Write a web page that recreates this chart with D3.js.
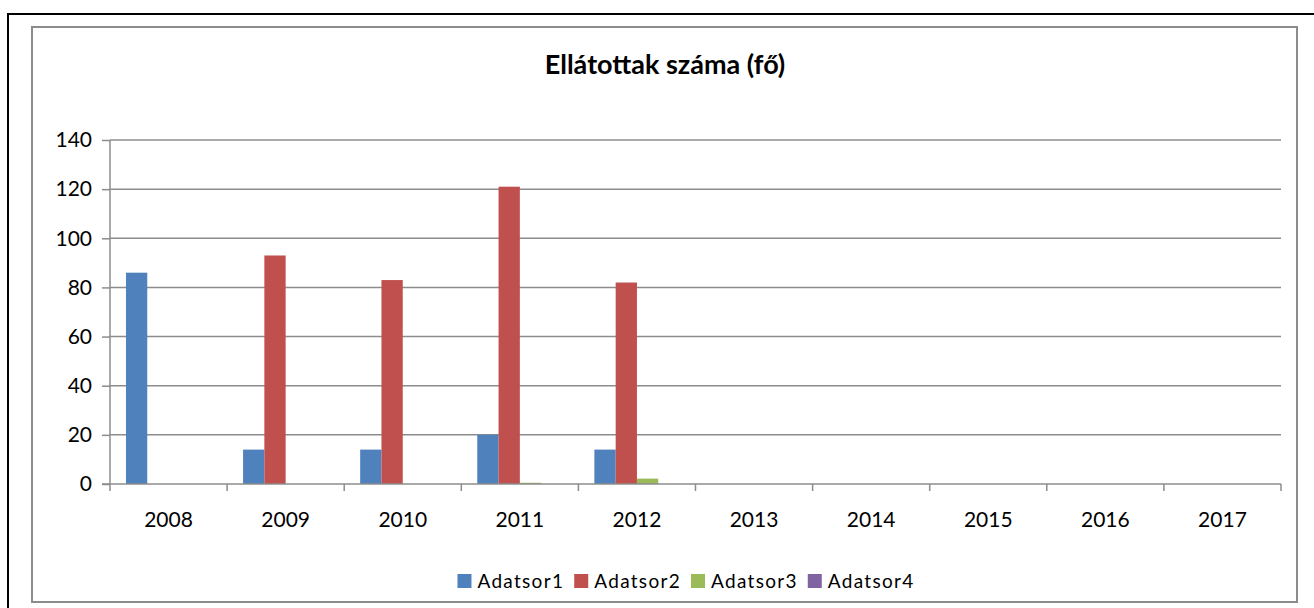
<!DOCTYPE html>
<html>
<head>
<meta charset="utf-8">
<script src="https://cdn.jsdelivr.net/npm/d3@7"></script>
<style>
  body { margin: 0; background: #fff; }
  text { font-family: Lato, "Open Sans", sans-serif; fill: #000; }
</style>
</head>
<body>
<script>
const years = ['2008', '2009', '2010', '2011', '2012', '2013', '2014', '2015', '2016', '2017'];
const seriesNames = ['Adatsor1', 'Adatsor2', 'Adatsor3', 'Adatsor4'];
const colors = ['#4f81bd', '#c0504d', '#9bbb59', '#8064a2'];

// values, one array per series (null = empty)
const adatsor1 = [86, 14, 14, 20, 14, null, null, null, null, null];
const adatsor2 = [null, 93, 83, 121, 82, null, null, null, null, null];
const adatsor3 = [null, null, null, 0.5, 2.2, null, null, null, null, null];
const adatsor4 = [null, null, null, null, null, null, null, null, null, null];
const yTicks = [0, 20, 40, 60, 80, 100, 120, 140];

const allSeries = [adatsor1, adatsor2, adatsor3, adatsor4];

const W = 1314, H = 608;
const plot = {left: 110, right: 1281, top: 140, bottom: 484};

const svg = d3.select('body').append('svg')
    .attr('width', W)
    .attr('height', H);

// outer frame (black) and chart area frame (gray)
svg.append('rect')
    .attr('x', 8).attr('y', 14)
    .attr('width', W + 10).attr('height', H + 10)
    .attr('fill', 'none')
    .attr('stroke', '#000')
    .attr('stroke-width', 2);

svg.append('rect')
    .attr('x', 32).attr('y', 27)
    .attr('width', 1265).attr('height', 575)
    .attr('fill', '#fff')
    .attr('stroke', '#8c8c8c')
    .attr('stroke-width', 2);

svg.append('text')
    .attr('x', 665).attr('y', 74)
    .attr('text-anchor', 'middle')
    .style('font-size', '27px')
    .style('font-weight', 'bold')
    .text('Ellátottak száma (fő)');

const x0 = d3.scaleBand()
    .domain(years)
    .range([plot.left, plot.right])
    .padding(0);

const x1 = d3.scaleBand()
    .domain(seriesNames)
    .range([0, x0.bandwidth()])
    .paddingInner(0)
    .paddingOuter(0.75);

const y = d3.scaleLinear()
    .domain([0, 140])
    .range([plot.bottom, plot.top]);

// gridlines
svg.append('g')
    .selectAll('line')
    .data(yTicks.filter(d => d > 0))
    .enter()
    .append('line')
    .attr('x1', plot.left).attr('x2', plot.right)
    .attr('y1', d => y(d)).attr('y2', d => y(d))
    .attr('stroke', '#8c8c8c')
    .attr('stroke-width', 1.5);

// bars
const rows = [];
allSeries.forEach((vals, si) => {
    vals.forEach((v, i) => {
        if (v != null) rows.push({year: years[i], series: seriesNames[si], value: v, color: colors[si]});
    });
});

svg.append('g')
    .selectAll('rect')
    .data(rows)
    .enter()
    .append('rect')
    .attr('x', d => x0(d.year) + x1(d.series))
    .attr('width', x1.bandwidth())
    .attr('y', d => y(d.value))
    .attr('height', d => y(0) - y(d.value))
    .attr('fill', d => d.color);

// y axis
const yAxis = d3.axisLeft(y)
    .tickValues(yTicks)
    .tickSize(8)
    .tickPadding(10);

const yAxisGroup = svg.append('g')
    .attr('transform', `translate(${plot.left},0)`)
    .call(yAxis);

// x axis with ticks at category boundaries
const xAxis = d3.axisBottom(x0)
    .tickSize(0)
    .tickPadding(28);

const xAxisGroup = svg.append('g')
    .attr('transform', `translate(0,${plot.bottom})`)
    .call(xAxis);

xAxisGroup.selectAll('.boundary')
    .data(years.concat(['end']))
    .enter()
    .append('line')
    .attr('class', 'boundary')
    .attr('x1', (d, i) => plot.left + i * x0.step())
    .attr('x2', (d, i) => plot.left + i * x0.step())
    .attr('y1', 0).attr('y2', 7)
    .attr('stroke', '#8c8c8c')
    .attr('stroke-width', 1.5);

[yAxisGroup, xAxisGroup].forEach(g => {
    g.select('.domain').attr('stroke', '#8c8c8c').attr('stroke-width', 1.5);
    g.selectAll('.tick line').attr('stroke', '#8c8c8c').attr('stroke-width', 1.5);
    g.selectAll('.tick text').style('font-size', '21px').style('font-family', 'Lato, sans-serif');
});
yAxisGroup.select('.domain').attr('d', `M0,${plot.top}V${plot.bottom}`);
xAxisGroup.select('.domain').attr('d', `M${plot.left - 8},0H${plot.right}`);

// legend
const legend = svg.append('g');
const items = legend.selectAll('g')
    .data(seriesNames)
    .enter()
    .append('g');

items.append('rect')
    .attr('width', 14).attr('height', 14)
    .attr('y', -7)
    .attr('fill', (d, i) => colors[i]);

items.append('text')
    .attr('x', 20)
    .attr('dy', '0.36em')
    .style('font-size', '19px')
    .style('letter-spacing', '1.3px')
    .text(d => d);

let cx = 0;
items.each(function() {
    const g = d3.select(this);
    g.attr('transform', `translate(${cx},0)`);
    cx += this.getBBox().width + 10;
});
const legendWidth = cx - 10;
legend.attr('transform', `translate(${686 - legendWidth / 2},581)`);
</script>
</body>
</html>
